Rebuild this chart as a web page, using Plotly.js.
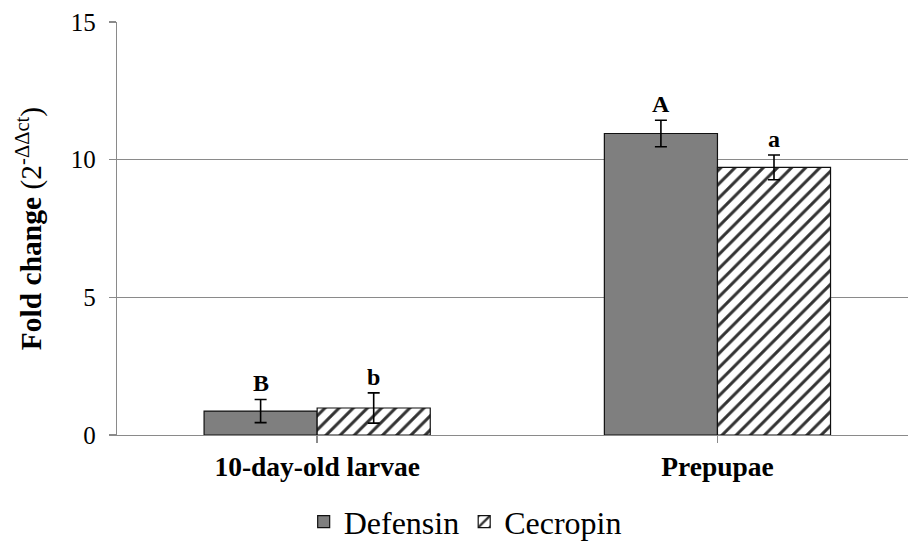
<!DOCTYPE html>
<html>
<head>
<meta charset="utf-8">
<script src="https://cdn.plot.ly/plotly-3.0.1.min.js"></script>
<style>html,body{margin:0;padding:0;background:#fff;}#chart{width:908px;height:542px;}</style>
</head>
<body>
<div id="chart"></div>
<script>
const categories = ["10-day-old larvae", "Prepupae"];
const seriesNames = ["Defensin", "Cecropin"];
const defensin = [0.87, 10.95];
const defensinErr = [0.42, 0.48];
const cecropin = [0.98, 9.72];
const cecropinErr = [0.55, 0.45];
const defensinLetters = ["B", "A"];
const cecropinLetters = ["b", "a"];
const yTicks = [0, 5, 10, 15];

const serif = "Liberation Serif, Times New Roman, serif";
const catIdx = categories.map((c, i) => i);
const bargap = 0.435;
const barW = (1 - bargap) / 2;

const traces = [
  {
    type: 'bar', name: seriesNames[0], x: catIdx, y: defensin,
    marker: {color: '#7f7f7f', line: {color: '#111', width: 1.2}},
    error_y: {type: 'data', array: defensinErr, visible: true, color: '#000', thickness: 1.6, width: 6}
  },
  {
    type: 'bar', name: seriesNames[1], x: catIdx, y: cecropin,
    marker: {color: '#fff', line: {color: '#111', width: 1.2},
      pattern: {shape: '/', fgcolor: '#333', bgcolor: '#fff', size: 10, solidity: 0.3}},
    error_y: {type: 'data', array: cecropinErr, visible: true, color: '#000', thickness: 1.6, width: 6}
  }
];

const annotations = [];
catIdx.forEach(i => {
  annotations.push({x: i - barW / 2, y: defensin[i] + defensinErr[i], xref: 'x', yref: 'y',
    text: '<b>' + defensinLetters[i] + '</b>', showarrow: false, yanchor: 'bottom', yshift: 1,
    font: {family: serif, size: 24, color: '#000'}});
  annotations.push({x: i + barW / 2, y: cecropin[i] + cecropinErr[i], xref: 'x', yref: 'y',
    text: '<b>' + cecropinLetters[i] + '</b>', showarrow: false, yanchor: 'bottom', yshift: 1,
    font: {family: serif, size: 24, color: '#000'}});
});

const layout = {
  width: 908, height: 542,
  margin: {l: 117, r: 0, t: 22, b: 107, autoexpand: false},
  paper_bgcolor: '#fff', plot_bgcolor: '#fff',
  barmode: 'group', bargap: bargap, bargroupgap: 0,
  font: {family: serif, color: '#000'},
  xaxis: {
    range: [-0.5, 1.476], tickmode: 'array', tickvals: catIdx,
    ticktext: categories.map(c => '<b>' + c + '</b>'),
    tickfont: {family: serif, size: 27.5, color: '#000'},
    showline: true, linecolor: '#8a8a8a', linewidth: 1.3,
    ticks: 'outside', tickson: 'boundaries', ticklen: 7, tickcolor: '#8a8a8a', tickwidth: 1.3,
    showgrid: false, zeroline: false, fixedrange: true, automargin: false
  },
  yaxis: {
    range: [0, 15], tickmode: 'array', tickvals: yTicks, ticktext: yTicks.map(String),
    tickfont: {family: serif, size: 25, color: '#000'}, ticklabelstandoff: 8,
    showline: true, linecolor: '#8a8a8a', linewidth: 1.3,
    ticks: 'outside', ticklen: 7, tickcolor: '#8a8a8a', tickwidth: 1.3,
    showgrid: true, gridcolor: '#8a8a8a', gridwidth: 1.3, zeroline: false, automargin: false,
    title: {text: '<b>Fold change</b> (2<sup>-ΔΔct</sup>)', font: {family: serif, size: 29.5, color: '#000'}, standoff: 20}
  },
  showlegend: true,
  legend: {orientation: 'h', x: 0.236, xanchor: 'left', y: -0.21, yanchor: 'middle',
    font: {family: serif, size: 32, color: '#000'}, itemwidth: 30, traceorder: 'normal'},
  annotations: annotations
};

Plotly.newPlot('chart', traces, layout, {displayModeBar: false, staticPlot: true});
</script>
</body>
</html>
